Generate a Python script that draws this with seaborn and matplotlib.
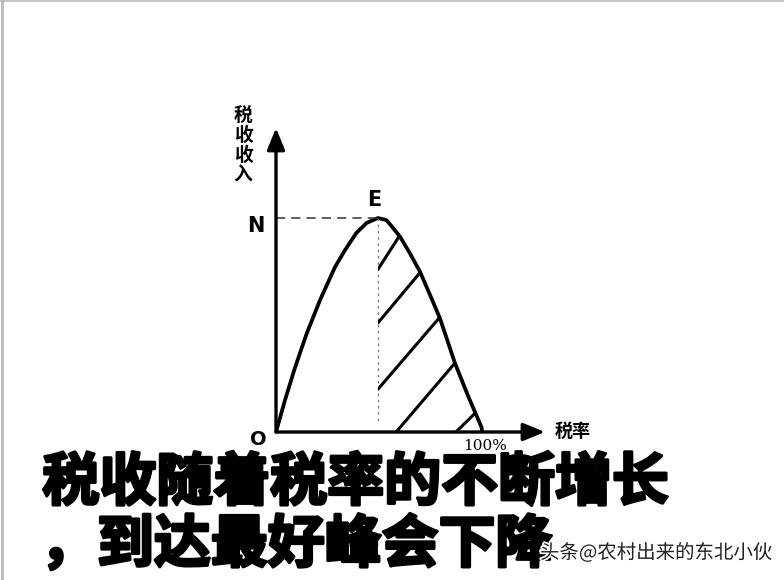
import numpy as np
import pandas as pd
import matplotlib
matplotlib.use("Agg")
import matplotlib.pyplot as plt
import matplotlib.patheffects as pe
from matplotlib.lines import Line2D
import seaborn as sns

# ---- data (tax rate %, tax revenue with N = 100) ----
tax_rate = [0, 4.4, 9.2, 14.9, 21.4, 28.6, 33.5, 39, 44, 49.5, 53.7, 60.2, 65, 69.9, 74.8, 79.6, 86.9, 93.4, 99.9, 100]
revenue = [0, 15, 30, 46, 61.7, 77, 85, 93, 97.7, 100, 99, 91.3, 83.5, 74.9, 64, 53.1, 32.1, 16.5, 1.9, 0]
peak_rate = 49.5
peak_revenue = 100
hatch_offsets = [76, 51, 20, -10, -36]     # hatch line heights at the peak rate
hatch_slopes = [1.5, 1.15, 1.12, 1.13, 0.95]
y_label = "税\n收\n收\n入"
x_label = "税率"
caption1 = "税收随着税率的不断增长"
caption2 = "，到达最好峰会下降"
watermark = "头条@农村出来的东北小伙"

sns.set_theme(style="white")
plt.rcParams['font.family'] = ['Noto Sans CJK SC', 'DejaVu Sans']

W, H = 784, 580
fig = plt.figure(figsize=(W / 100, H / 100), dpi=100)
fig.patch.set_facecolor("white")

# axes placed so that 0..100% spans pixels 276..482 and 0..N spans 432..218
x0, y0 = 276, 432
xmax_px, ymax_px = 545, 128
sx = (482 - 276) / 100.0
sy = (432 - 218) / 100.0
ax = fig.add_axes([x0 / W, (H - y0) / H, (xmax_px - x0) / W, (y0 - ymax_px) / H])
ax.set_xlim(0, (xmax_px - x0) / sx)
ax.set_ylim(0, (y0 - ymax_px) / sy)
ax.axis("off")

df = pd.DataFrame({"rate": tax_rate, "rev": revenue})
sns.lineplot(data=df, x="rate", y="rev", ax=ax, color="black", lw=2.7, sort=False,
             estimator=None, solid_capstyle="round", solid_joinstyle="round")

# axes arrows
arrow = dict(arrowstyle="-|>,head_length=1.1,head_width=0.45", color="black", lw=2.4,
             shrinkA=0, shrinkB=0)
ax.annotate("", xy=(1, 0), xytext=(0, 0), xycoords="axes fraction",
            textcoords="axes fraction", arrowprops=arrow, annotation_clip=False)
ax.annotate("", xy=(0, 1), xytext=(0, 0), xycoords="axes fraction",
            textcoords="axes fraction", arrowprops=arrow, annotation_clip=False)

# dashed guides
ax.plot([0, peak_rate], [peak_revenue, peak_revenue], color="#333333", lw=1.1,
        ls=(0, (6, 4)))
ax.plot([peak_rate, peak_rate], [peak_revenue, 5], color="#777777", lw=0.9,
        ls=(0, (2, 3)))

# hatched region to the right of the peak
right = df[df["rate"] >= peak_rate]
poly = ax.fill_between(right["rate"], 0, right["rev"], facecolor="none", edgecolor="none")
xs = np.array([peak_rate, 100])
for c, k in zip(hatch_offsets, hatch_slopes):
    ln, = ax.plot(xs, c + k * (xs - peak_rate), color="black", lw=2.2)
    ln.set_clip_path(poly.get_paths()[0], poly.get_transform())

# labels
bold_latin = dict(family=["DejaVu Sans"], fontweight="bold", color="black")
ax.text(-9.7, peak_revenue - 3.7, "N", fontsize=15, ha="center", va="center", **bold_latin)
ax.text(peak_rate - 1.9, peak_revenue + 8.4, "E", fontsize=15, ha="center", va="center", **bold_latin)
ax.text(-8.7, -3.7, "O", fontsize=14, ha="center", va="center", **bold_latin)
ax.text(101.5, -6.5, "100%", fontsize=11, ha="center", va="center",
        family=["DejaVu Serif"], color="black", clip_on=False)
ax.text(135.4, 0.3, x_label, fontsize=13, ha="left", va="center", fontweight="bold",
        color="black", clip_on=False)
ax.text(-16, 134, y_label, fontsize=13.5, ha="center", va="center", fontweight="bold",
        linespacing=1.05, color="black", clip_on=False)

# caption
heavy = [pe.Stroke(linewidth=5, foreground="white"),
         pe.Stroke(linewidth=2.2, foreground="black"), pe.Normal()]
fig.text(356 / W, 1 - 483 / H, caption1, fontsize=41, fontweight="heavy", color="black",
         ha="center", va="center", path_effects=heavy)
fig.text(40 / W, 1 - 545 / H, caption2, fontsize=41, fontweight="heavy", color="black",
         ha="left", va="center", path_effects=heavy)
fig.text(540 / W, 1 - 553 / H, watermark, fontsize=14, color="#222222",
         ha="left", va="center",
         path_effects=[pe.withStroke(linewidth=2.5, foreground="white")])

# faint scan border
fig.add_artist(Line2D([0, 1], [1 - 1 / H, 1 - 1 / H], transform=fig.transFigure,
                      color="#bbbbbb", lw=1.2))
fig.add_artist(Line2D([2 / W, 2 / W], [0, 1], transform=fig.transFigure,
                      color="#bbbbbb", lw=2))

fig.savefig("out.png", dpi=100, facecolor="white")
